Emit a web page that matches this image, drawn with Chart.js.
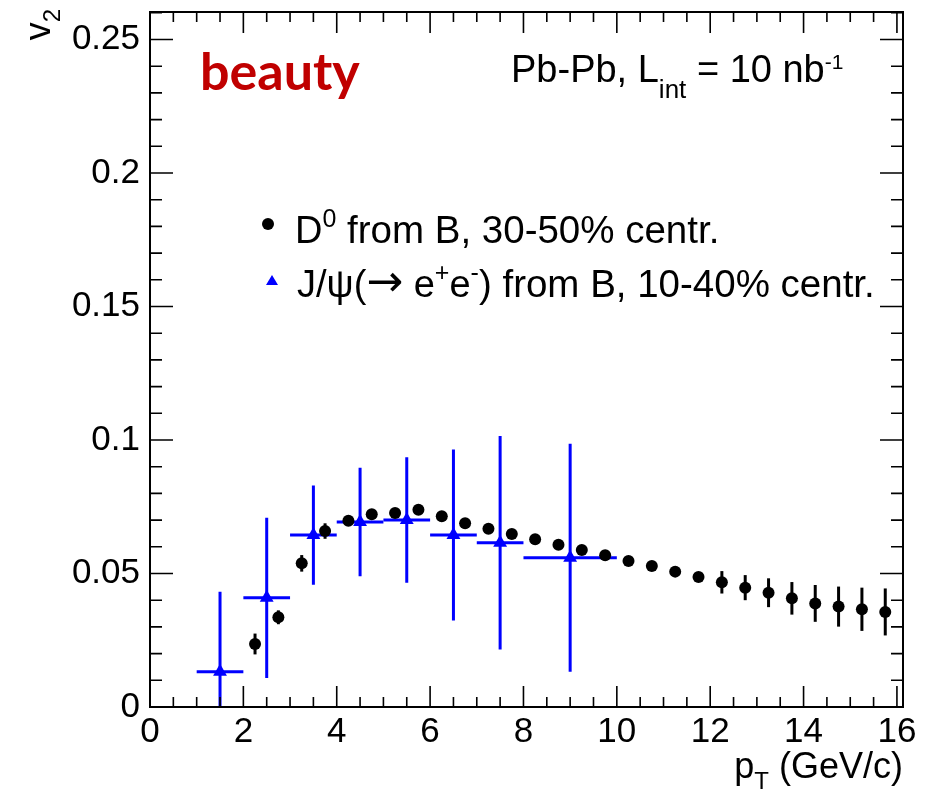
<!DOCTYPE html>
<html>
<head>
<meta charset="utf-8">
<script src="https://cdn.jsdelivr.net/npm/chart.js@4.4.1/dist/chart.umd.min.js"></script>
<style>
  body { margin: 0; background: #fff; }
  canvas { display: block; }
</style>
</head>
<body>
<canvas id="v2Chart" width="935" height="794"></canvas>
<script>
// D0 from B, 30-50% centr.
const d0Pt = [2.25, 2.75, 3.25, 3.75, 4.25, 4.75, 5.25, 5.75, 6.25, 6.75, 7.25, 7.75, 8.25, 8.75,
  9.25, 9.75, 10.25, 10.75, 11.25, 11.75, 12.25, 12.75, 13.25, 13.75, 14.25, 14.75, 15.25, 15.75];
const d0V2 = [0.0236, 0.0336, 0.0538, 0.0659, 0.0698, 0.0722, 0.0727, 0.0739, 0.0714, 0.0688, 0.0668, 0.0648, 0.0628, 0.0608,
  0.0588, 0.0568, 0.0547, 0.0528, 0.0507, 0.0487, 0.0467, 0.0447, 0.0428, 0.0407, 0.0388, 0.0376, 0.0366, 0.0356];
const d0Err = [0.0039, 0.0026, 0.0031, 0.0029, 0.0015, 0.0015, 0.0015, 0.0015, 0.0015, 0.0015, 0.0015, 0.0015, 0.0015, 0.0015,
  0.0015, 0.0015, 0.0015, 0.0015, 0.0015, 0.0015, 0.0042, 0.0047, 0.0054, 0.0061, 0.0069, 0.0075, 0.0081, 0.0088];

// J/psi(-> e+e-) from B, 10-40% centr.
const jpsiPt = [1.5, 2.5, 3.5, 4.5, 5.5, 6.5, 7.5, 9];
const jpsiLow = [1, 2, 3, 4, 5, 6, 7, 8];
const jpsiHigh = [2, 3, 4, 5, 6, 7, 8, 10];
const jpsiV2 = [0.0132, 0.0409, 0.0644, 0.0693, 0.0700, 0.0644, 0.0615, 0.0559];
const jpsiErr = [0.030, 0.030, 0.0186, 0.0203, 0.0235, 0.032, 0.040, 0.0427];

// axis ticks
const xTicks = [0, 2, 4, 6, 8, 10, 12, 14, 16];
const yTicks = [0, 0.05, 0.1, 0.15, 0.2, 0.25];

const FONT = "'Liberation Sans', Arial, sans-serif";

// error bars drawn under the markers
const errorBars = {
  id: 'errorBars',
  beforeDatasetsDraw(chart) {
    const {ctx, chartArea: a, scales: {x, y}} = chart;
    ctx.save();
    ctx.beginPath();
    ctx.rect(a.left, a.top, a.width, a.height);
    ctx.clip();
    chart.data.datasets.forEach(ds => {
      ctx.strokeStyle = ds.errColor;
      ctx.lineWidth = 3;
      ds.data.forEach((p, i) => {
        const px = x.getPixelForValue(p.x);
        const py = y.getPixelForValue(p.y);
        ctx.beginPath();
        ctx.moveTo(px, y.getPixelForValue(p.y - ds.yErr[i]));
        ctx.lineTo(px, y.getPixelForValue(p.y + ds.yErr[i]));
        if (ds.xLow) {
          ctx.moveTo(x.getPixelForValue(ds.xLow[i]), py);
          ctx.lineTo(x.getPixelForValue(ds.xHigh[i]), py);
        }
        ctx.stroke();
      });
    });
    ctx.restore();
  }
};

// ROOT style frame with ticks pointing inward
const frame = {
  id: 'frame',
  afterDraw(chart) {
    const {ctx, chartArea: a, scales: {x, y}} = chart;
    ctx.save();
    ctx.strokeStyle = '#000';
    ctx.lineWidth = 2;
    ctx.strokeRect(a.left, a.top, a.width, a.height);
    ctx.lineWidth = 1.6;
    ctx.beginPath();
    for (let v = 0; v <= 16.001; v += 0.5) {
      const px = x.getPixelForValue(v);
      const len = Math.abs(v % 2) < 1e-6 ? 21 : 10;
      ctx.moveTo(px, a.bottom); ctx.lineTo(px, a.bottom - len);
      ctx.moveTo(px, a.top); ctx.lineTo(px, a.top + len);
    }
    for (let k = 0; k <= 26; k++) {
      const py = y.getPixelForValue(k / 100);
      const len = k % 5 === 0 ? 23 : 12;
      ctx.moveTo(a.left, py); ctx.lineTo(a.left + len, py);
      ctx.moveTo(a.right, py); ctx.lineTo(a.right - len, py);
    }
    ctx.stroke();
    ctx.restore();
  }
};

// text pieces: [text, size, baseline shift, font family]
function richWidth(ctx, segs) {
  let w = 0;
  segs.forEach(s => { ctx.font = s[1] + 'px ' + (s[3] || FONT); w += ctx.measureText(s[0]).width; });
  return w;
}
function drawRich(ctx, x, y, segs) {
  segs.forEach(s => {
    ctx.font = s[1] + 'px ' + (s[3] || FONT);
    ctx.fillText(s[0], x, y + (s[2] || 0));
    x += ctx.measureText(s[0]).width;
  });
}

const labels = {
  id: 'labels',
  afterDraw(chart) {
    const {ctx, chartArea: a} = chart;
    ctx.save();
    ctx.textBaseline = 'alphabetic';
    ctx.textAlign = 'left';

    ctx.fillStyle = '#c00000';
    ctx.font = "bold 52px Lato, 'Open Sans', sans-serif";
    ctx.fillText('beauty', 200, 90);

    ctx.fillStyle = '#000';
    drawRich(ctx, 511, 82, [['Pb-Pb, L', 38], ['int', 26, 16], [' = 10 nb', 38], ['-1', 21, -13]]);

    // legend
    ctx.beginPath();
    ctx.arc(268, 224, 6, 0, Math.PI * 2);
    ctx.fill();
    drawRich(ctx, 295, 243, [['D', 38], ['0', 25, -16], [' from B, 30-50% centr.', 38.5]]);
    ctx.fillStyle = '#0000ff';
    ctx.beginPath();
    ctx.moveTo(272, 275); ctx.lineTo(278, 285); ctx.lineTo(266, 285);
    ctx.closePath();
    ctx.fill();
    ctx.fillStyle = '#000';
    drawRich(ctx, 297, 297, [['J/\u03c8(', 38], ['\u2192', 44, -1, "'DejaVu Sans', sans-serif"], [' e', 38], ['+', 25, -16],
      ['e', 38], ['-', 25, -16], [') from B, 10-40% centr.', 38.5]]);

    // axis titles
    const xt = [['p', 36], ['T', 24, 11], [' (GeV/c)', 36]];
    drawRich(ctx, a.right - richWidth(ctx, xt), 778, xt);

    ctx.translate(50, 9);
    ctx.rotate(-Math.PI / 2);
    const yt = [['v', 36], ['2', 24, 10]];
    drawRich(ctx, -richWidth(ctx, yt), 0, yt);
    ctx.restore();
  }
};

const chart = new Chart(document.getElementById('v2Chart'), {
  type: 'scatter',
  data: {
    datasets: [
      {
        label: 'D0 from B, 30-50% centr.',
        data: d0Pt.map((p, i) => ({x: p, y: d0V2[i]})),
        yErr: d0Err,
        errColor: '#000',
        pointStyle: 'circle',
        pointRadius: 6,
        pointBackgroundColor: '#000',
        pointBorderWidth: 0,
        order: 0
      },
      {
        label: 'J/psi from B, 10-40% centr.',
        data: jpsiPt.map((p, i) => ({x: p, y: jpsiV2[i]})),
        yErr: jpsiErr,
        xLow: jpsiLow,
        xHigh: jpsiHigh,
        errColor: '#0000ff',
        pointStyle: 'triangle',
        pointRadius: 8,
        pointBackgroundColor: '#0000ff',
        pointBorderWidth: 0,
        order: 1
      }
    ]
  },
  options: {
    responsive: false,
    animation: false,
    events: [],
    layout: { padding: { top: 12, right: 32, left: 0, bottom: 0 } },
    plugins: { legend: { display: false }, tooltip: { enabled: false } },
    scales: {
      x: {
        type: 'linear', min: 0, max: 16.13,
        grid: { display: false, drawTicks: false },
        border: { display: false },
        afterBuildTicks: s => { s.ticks = xTicks.map(v => ({value: v})); },
        afterFit: s => { s.height = 87; s.paddingLeft = 0; s.paddingRight = 0; },
        ticks: { autoSkip: false, maxRotation: 0, padding: 4, color: '#000',
          font: { family: FONT, size: 35 } }
      },
      y: {
        type: 'linear', min: 0, max: 0.2603,
        grid: { display: false, drawTicks: false },
        border: { display: false },
        afterBuildTicks: s => { s.ticks = yTicks.map(v => ({value: v})); },
        afterFit: s => { s.width = 150; s.paddingTop = 0; s.paddingBottom = 0; },
        ticks: { autoSkip: false, padding: 10, color: '#000',
          font: { family: FONT, size: 35 },
          callback: v => String(Math.round(v * 100) / 100) }
      }
    }
  },
  plugins: [errorBars, frame, labels]
});
</script>
</body>
</html>
